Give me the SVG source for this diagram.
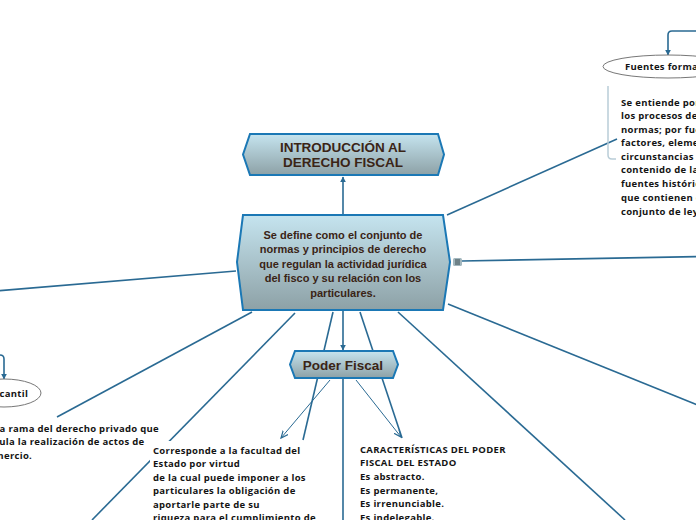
<svg xmlns="http://www.w3.org/2000/svg" width="696" height="520" viewBox="0 0 696 520">
<style>
.node{stroke:#1b78b5;stroke-width:2;fill:url(#g)}
.nt{font-family:"Liberation Sans",Arial,sans-serif;font-weight:bold;fill:#3a2416;text-anchor:middle}
.c{stroke:#2a6a93;stroke-width:1.6;fill:none}
.thin{stroke:#2a6a93;stroke-width:1;fill:none}
.tx{font-family:"Open Sans","Noto Sans",sans-serif;font-weight:bold;font-size:9.5px;letter-spacing:0.3px;fill:#141414}
.ell{fill:#fff;stroke:#777;stroke-width:1}
</style>
<defs>
<linearGradient id="g" x1="0" y1="0" x2="0" y2="1">
<stop offset="0" stop-color="#c5e4ef"/>
<stop offset="1" stop-color="#8da1a6"/>
</linearGradient>
<marker id="a" viewBox="0 0 10 10" refX="9" refY="5" markerWidth="6" markerHeight="6" orient="auto" markerUnits="userSpaceOnUse">
<path d="M0,0 L10,5 L0,10 Z" fill="#2a6a93"/>
</marker>
<marker id="o" viewBox="0 0 10 10" refX="9" refY="5" markerWidth="8" markerHeight="8" orient="auto" markerUnits="userSpaceOnUse">
<path d="M0,1 L9,5 L0,9" fill="none" stroke="#2a6a93" stroke-width="1.5"/>
</marker>
</defs>
<rect width="696" height="520" fill="#fff"/>
<g id="connectors">
<path class="c" d="M343,214 L343,177" marker-end="url(#a)"/>
<path class="c" d="M236,271 L-5,291"/>
<path class="c" d="M447,215 L617,139"/>
<path class="c" d="M462,261 L700,256.5"/>
<path class="c" d="M448,304 L700,406"/>
<path class="c" d="M398,312 L625,520"/>
<path class="c" d="M252,312 L57,417"/>
<path class="c" d="M295,313 L92,520"/>
<path class="c" d="M333,312 L303,440"/>
<path class="c" d="M343,311 L343,350" marker-end="url(#a)"/>
<path class="c" d="M360,312 L402,438"/>
<path class="c" d="M343,378 L343,522"/>
<path class="thin" d="M330,380 L281,438" marker-end="url(#o)"/>
<path class="thin" d="M356,380 L401,437" marker-end="url(#o)"/>
<path class="c" d="M-10,355 L0,355 Q4,355 4,359 L4,379" marker-end="url(#a)"/>
<path class="c" d="M700,31 L672,31 Q668,31 668,35 L668,55" marker-end="url(#a)"/>
<path d="M608,86 L608,155 Q608,159 612,159 L616,159" fill="none" stroke="#b9cdd7" stroke-width="1.5"/>
</g>
<g id="top">
<path class="node" d="M250,134 L438,134 L444,154.5 L438,175 L250,175 L243,154.5 Z"/>
<text class="nt" font-size="13.5" x="343" y="152">INTRODUCCIÓN AL</text>
<text class="nt" font-size="13.5" x="343" y="167">DERECHO FISCAL</text>
</g>
<g id="central">
<path class="node" d="M243,215 L443,215 L450,262 L443,310 L243,310 L237,262 Z"/>
<text class="nt" font-size="11" x="343" y="239">Se define como el conjunto de</text>
<text class="nt" font-size="11" x="343" y="253">normas y principios de derecho</text>
<text class="nt" font-size="11" x="343" y="267.5">que regulan la actividad jurídica</text>
<text class="nt" font-size="11" x="343" y="282">del fisco y su relación con los</text>
<text class="nt" font-size="11" x="343" y="297">particulares.</text>
<rect x="453" y="258" width="9" height="8" rx="1.5" fill="#a3b7be"/>
<path d="M455,260 h5 M455,262 h5 M455,264 h5" stroke="#394a50" stroke-width="1"/>
</g>
<g id="poder">
<path class="node" d="M295,351 L393,351 L398,364.5 L393,378 L295,378 L290,364.5 Z"/>
<text class="nt" font-size="13.5" x="343" y="369.5">Poder Fiscal</text>
</g>
<g id="fuentes">
<ellipse class="ell" cx="668" cy="66.5" rx="65" ry="11.5"/>
<text class="tx" x="625" y="70">Fuentes formales</text>
<text class="tx" x="621" y="105.5">Se entiende por</text>
<text class="tx" x="621" y="119">los procesos de</text>
<text class="tx" x="621" y="132.5">normas; por fuentes</text>
<text class="tx" x="621" y="146">factores, elementos</text>
<text class="tx" x="621" y="159.5">circunstancias que</text>
<text class="tx" x="621" y="173">contenido de la</text>
<text class="tx" x="621" y="186.5">fuentes históricas</text>
<text class="tx" x="621" y="200.5">que contienen el</text>
<text class="tx" x="621" y="214.5">conjunto de leyes</text>
</g>
<g id="mercantil">
<ellipse class="ell" cx="4" cy="393" rx="37" ry="14"/>
<text class="tx" x="4" y="396.5" text-anchor="middle">Mercantil</text>
<text class="tx" x="-17" y="431.5">Es la rama del derecho privado que</text>
<text class="tx" x="-17" y="445">regula la realización de actos de</text>
<text class="tx" x="-17" y="458.5">comercio.</text>
</g>
<g id="corresponde">
<rect x="150" y="441" width="177" height="80" fill="#fff"/>
<text class="tx" x="153" y="453.5">Corresponde a la facultad del</text>
<text class="tx" x="153" y="467">Estado por virtud</text>
<text class="tx" x="153" y="480.5">de la cual puede imponer a los</text>
<text class="tx" x="153" y="494">particulares la obligación de</text>
<text class="tx" x="153" y="507.5">aportarle parte de su</text>
<text class="tx" x="153" y="521">riqueza para el cumplimiento de</text>
</g>
<g id="caracteristicas">
<text class="tx" x="360" y="452.5">CARACTERÍSTICAS DEL PODER</text>
<text class="tx" x="360" y="466">FISCAL DEL ESTADO</text>
<text class="tx" x="360" y="480">Es abstracto.</text>
<text class="tx" x="360" y="493.5">Es permanente,</text>
<text class="tx" x="360" y="507">Es irrenunciable.</text>
<text class="tx" x="360" y="520.5">Es indelegable.</text>
</g>
</svg>
